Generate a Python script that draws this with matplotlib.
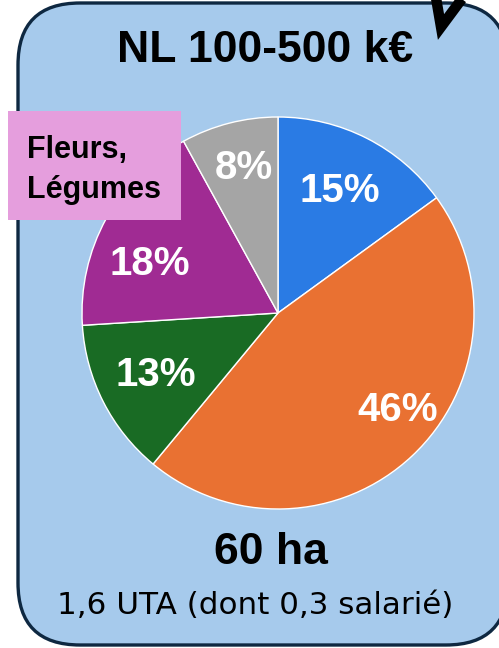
"""Pie card: NL 100-500 k€ farm profile."""

import matplotlib

matplotlib.use("Agg")
import matplotlib.pyplot as plt
from matplotlib.patches import FancyBboxPatch, Rectangle

W, H = 499, 648

# data
shares = [15, 46, 13, 18, 8]
colors = ["#2A7BE4", "#E97132", "#196B24", "#A02B93", "#A5A5A5"]
title = "NL 100-500 k€"
callout = "Fleurs,\nLégumes"
area = "60 ha"
workforce = "1,6 UTA (dont 0,3 salarié)"


def py(y):
    # pixel row (from top) -> data y
    return H - y


fig = plt.figure(figsize=(W / 100, H / 100), dpi=100)
ax = fig.add_axes([0, 0, 1, 1])

card = FancyBboxPatch(
    (18, py(645)), 490, 642,
    boxstyle="round,pad=0,rounding_size=62",
    facecolor="#A6CAEC", edgecolor="#0E2841", linewidth=2.4, zorder=1,
)
ax.add_patch(card)

wedges, _, pct = ax.pie(
    shares,
    colors=colors,
    startangle=90,
    counterclock=False,
    center=(278, py(313)),
    radius=196,
    autopct="%d%%",
    pctdistance=0.70,
    wedgeprops={"edgecolor": "white", "linewidth": 1.0, "zorder": 2},
    textprops={"color": "white", "fontsize": 29, "fontweight": "bold",
               "family": "Liberation Sans", "zorder": 3},
    frame=True,
)
# Excel "best fit" nudges some labels away from the slice middle
pct[1].set_position((398, py(410)))
pct[3].set_position((150, py(264)))
pct[4].set_position((244, py(168)))

ax.add_patch(Rectangle((8, py(220)), 173, 109, facecolor="#E59EDD",
                       edgecolor="none", zorder=4))
ax.text(27, py(170), callout, ha="left", va="center", fontsize=22,
        fontweight="bold", family="Liberation Sans", linespacing=1.45, zorder=5)

ax.text(265, py(51), title, ha="center", va="center", fontsize=32,
        fontweight="bold", family="Liberation Sans", zorder=5)
ax.text(271, py(552), area, ha="center", va="center", fontsize=32,
        fontweight="bold", family="Liberation Sans", zorder=5)
ax.text(255, py(605), workforce, ha="center", va="center", fontsize=22.3,
        family="DejaVu Sans", zorder=5)

# check mark poking out of the corner
ax.plot([435, 441, 467], [py(-8), py(27), py(-8)], color="black",
        linewidth=7.5, solid_joinstyle="miter", solid_capstyle="butt", zorder=6)

ax.set_xlim(0, W)
ax.set_ylim(0, H)
ax.set_aspect("equal")
ax.axis("off")

fig.savefig("out.png", dpi=100)
